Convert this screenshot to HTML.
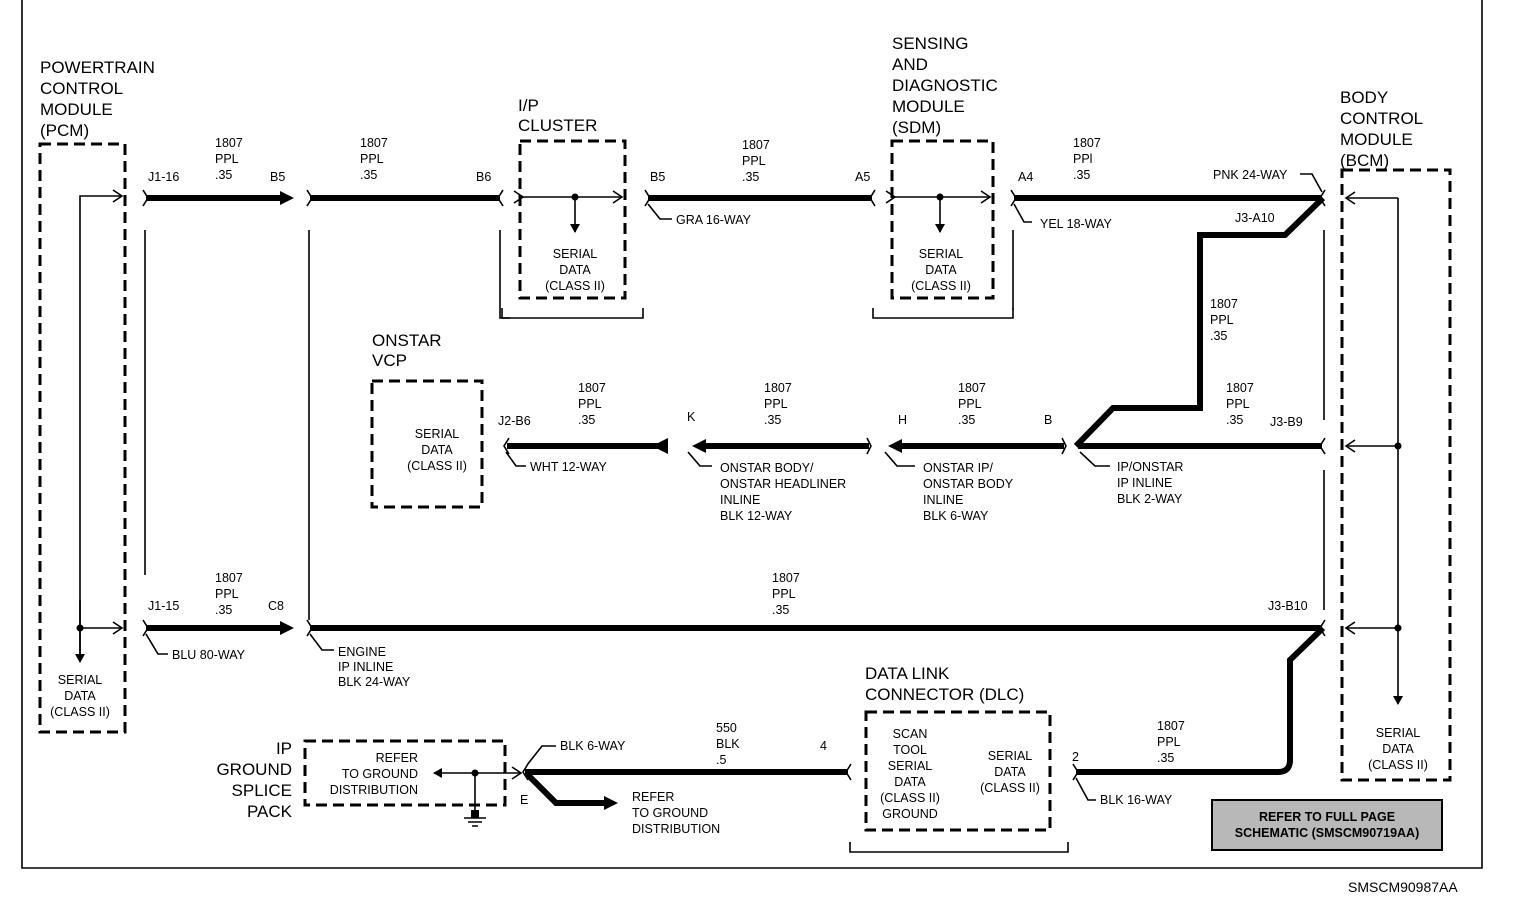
<!DOCTYPE html>
<html><head><meta charset="utf-8"><style>
html,body{margin:0;padding:0;background:#fff}
svg{display:block}
text{font-family:"Liberation Sans",Arial,sans-serif;fill:#000}
.t{font-size:17px}
.s{font-size:12.5px}
.w{stroke:#000;stroke-width:6;fill:none;stroke-linejoin:miter}
.n{stroke:#000;stroke-width:1.6;fill:none}
.d{stroke:#000;stroke-width:3;fill:none;stroke-dasharray:11,6}
</style></head><body>
<svg width="1520" height="914" viewBox="0 0 1520 914" xmlns="http://www.w3.org/2000/svg">
<defs>
<marker id="ah" markerWidth="10" markerHeight="10" refX="8" refY="5" orient="auto" markerUnits="userSpaceOnUse"><path d="M0,0 L9,5 L0,10 Z" fill="#000"/></marker>
<marker id="bh" markerWidth="16" markerHeight="16" refX="4" refY="8" orient="auto" markerUnits="userSpaceOnUse"><path d="M0,1 L14,8 L0,15 Z" fill="#000"/></marker>
<marker id="oa" markerWidth="12" markerHeight="14" refX="10" refY="7" orient="auto" markerUnits="userSpaceOnUse"><path d="M1,1 L10,7 L1,13" fill="none" stroke="#000" stroke-width="1.6"/></marker>
</defs>
<!-- frame -->
<path d="M22,0 V868 H1482 V0" class="n"/>

<!-- PCM -->
<text class="t" x="40" y="73">POWERTRAIN</text>
<text class="t" x="40" y="94">CONTROL</text>
<text class="t" x="40" y="115">MODULE</text>
<text class="t" x="40" y="136">(PCM)</text>
<rect x="40" y="144" width="85" height="588" class="d"/>
<path d="M80,660 V196 H122" class="n" marker-end="url(#oa)"/>
<path d="M80,600 V662" class="n" marker-end="url(#ah)"/>
<path d="M80,628 H122" class="n" marker-end="url(#oa)"/>
<circle cx="80" cy="628" r="3.5"/>
<g class="s" text-anchor="middle"><text x="80" y="684">SERIAL</text><text x="80" y="700">DATA</text><text x="80" y="716">(CLASS II)</text></g>

<!-- row 1 -->
<g class="s"><text x="148" y="181">J1-16</text><text x="215" y="147">1807</text><text x="215" y="163">PPL</text><text x="215" y="179">.35</text><text x="270" y="181">B5</text>
<text x="360" y="147">1807</text><text x="360" y="163">PPL</text><text x="360" y="179">.35</text><text x="476" y="181">B6</text></g>
<path d="M146,198 H284" class="w" marker-end="url(#bh)"/>
<path d="M143,190 L148,198 L143,206" class="n" stroke-width="3"/>
<path d="M310,198 H500" class="w"/>
<path d="M307,190 L312,198 L307,206 M503,190 L498,198 L503,206" class="n" stroke-width="3"/>
<path d="M145,230 V575 M309,230 V620 M500,230 V318 H510" class="n"/>

<text class="t" x="518" y="111">I/P</text><text class="t" x="518" y="131">CLUSTER</text>
<rect x="520" y="141" width="105" height="157" class="d"/>
<path d="M523,197 H622" class="n" marker-start="url(#oa)" marker-end="url(#oa)"/>
<path d="M575,197 V232" class="n" marker-end="url(#ah)"/><circle cx="575" cy="197" r="3.5"/>
<g class="s" text-anchor="middle"><text x="575" y="258">SERIAL</text><text x="575" y="274">DATA</text><text x="575" y="290">(CLASS II)</text></g>
<path d="M502,308 V318 H643 V308" class="n"/>

<g class="s"><text x="650" y="181">B5</text><text x="742" y="149">1807</text><text x="742" y="165">PPL</text><text x="742" y="181">.35</text><text x="855" y="181">A5</text>
<text x="676" y="224">GRA 16-WAY</text></g>
<path d="M648,198 H872" class="w"/>
<path d="M645,190 L650,198 L645,206 M875,190 L870,198 L875,206" class="n" stroke-width="3"/>
<path d="M648,204 L660,219 H672" class="n"/>

<text class="t" x="892" y="49">SENSING</text><text class="t" x="892" y="70">AND</text><text class="t" x="892" y="91">DIAGNOSTIC</text><text class="t" x="892" y="112">MODULE</text><text class="t" x="892" y="133">(SDM)</text>
<rect x="892" y="141" width="101" height="157" class="d"/>
<path d="M895,197 H990" class="n" marker-start="url(#oa)" marker-end="url(#oa)"/>
<path d="M940,197 V232" class="n" marker-end="url(#ah)"/><circle cx="940" cy="197" r="3.5"/>
<g class="s" text-anchor="middle"><text x="941" y="258">SERIAL</text><text x="941" y="274">DATA</text><text x="941" y="290">(CLASS II)</text></g>
<path d="M873,308 V318 H1013 V308" class="n"/>
<path d="M1013,230 V310" class="n"/>

<g class="s"><text x="1018" y="181">A4</text><text x="1073" y="147">1807</text><text x="1073" y="163">PPl</text><text x="1073" y="179">.35</text>
<text x="1040" y="228">YEL 18-WAY</text><text x="1213" y="179">PNK 24-WAY</text><text x="1235" y="222">J3-A10</text>
<text x="1210" y="308">1807</text><text x="1210" y="324">PPL</text><text x="1210" y="340">.35</text></g>
<path d="M1014,198 H1322" class="w"/>
<path d="M1011,190 L1016,198 L1011,206" class="n" stroke-width="3"/>
<path d="M1014,204 L1024,222 H1032 M1300,174 H1312 L1322,192" class="n"/>
<path d="M1323,198 L1285,235 H1200 V408 H1113 L1076,446" class="w"/>
<path d="M1325,190 L1320,198 L1325,206" class="n" stroke-width="3"/>
<path d="M1324,230 V420 M1324,470 V610" class="n"/>

<!-- ONSTAR -->
<text class="t" x="372" y="346">ONSTAR</text><text class="t" x="372" y="366">VCP</text>
<rect x="372" y="381" width="110" height="126" class="d"/>
<g class="s" text-anchor="middle"><text x="437" y="438">SERIAL</text><text x="437" y="454">DATA</text><text x="437" y="470">(CLASS II)</text></g>

<g class="s"><text x="498" y="425">J2-B6</text><text x="578" y="392">1807</text><text x="578" y="408">PPL</text><text x="578" y="424">.35</text>
<text x="687" y="421">K</text><text x="764" y="392">1807</text><text x="764" y="408">PPL</text><text x="764" y="424">.35</text>
<text x="898" y="424">H</text><text x="958" y="392">1807</text><text x="958" y="408">PPL</text><text x="958" y="424">.35</text><text x="1044" y="424">B</text>
<text x="1226" y="392">1807</text><text x="1226" y="408">PPL</text><text x="1226" y="424">.35</text><text x="1270" y="426">J3-B9</text>
<text x="530" y="471">WHT 12-WAY</text>
<text x="720" y="472">ONSTAR BODY/</text><text x="720" y="488">ONSTAR HEADLINER</text><text x="720" y="504">INLINE</text><text x="720" y="520">BLK 12-WAY</text>
<text x="923" y="472">ONSTAR IP/</text><text x="923" y="488">ONSTAR BODY</text><text x="923" y="504">INLINE</text><text x="923" y="520">BLK 6-WAY</text>
<text x="1117" y="471">IP/ONSTAR</text><text x="1117" y="487">IP INLINE</text><text x="1117" y="503">BLK 2-WAY</text></g>
<path d="M1078,446 H1322" class="w"/><path d="M1325,438 L1320,446 L1325,454" class="n" stroke-width="3"/>
<path d="M1064,446 H898" class="w" marker-end="url(#bh)"/><path d="M1062,438 L1066,446 L1062,454" class="n" stroke-width="3"/>
<path d="M869,446 H702" class="w" marker-end="url(#bh)"/><path d="M867,438 L871,446 L867,454" class="n" stroke-width="3"/>
<path d="M665,446 H507" class="w"/><path d="M652,446 L668,438 L668,454 Z" fill="#000"/>
<path d="M509,438 L504,446 L509,454" class="n" stroke-width="3"/>
<path d="M506,452 L516,466 H526 M688,452 L700,466 H712 M885,452 L897,466 H915 M1080,452 L1095,466 H1110" class="n"/>

<!-- BCM -->
<text class="t" x="1340" y="103">BODY</text><text class="t" x="1340" y="124">CONTROL</text><text class="t" x="1340" y="145">MODULE</text><text class="t" x="1340" y="166">(BCM)</text>
<rect x="1342" y="170" width="108" height="610" class="d"/>
<path d="M1398,198 H1346" class="n" marker-end="url(#oa)"/>
<path d="M1398,446 H1346" class="n" marker-end="url(#oa)"/>
<path d="M1398,628 H1346" class="n" marker-end="url(#oa)"/>
<path d="M1398,198 V704" class="n" marker-end="url(#ah)"/>
<circle cx="1398" cy="446" r="3.5"/><circle cx="1398" cy="628" r="3.5"/>
<g class="s" text-anchor="middle"><text x="1398" y="737">SERIAL</text><text x="1398" y="753">DATA</text><text x="1398" y="769">(CLASS II)</text></g>

<!-- row 3 -->
<g class="s"><text x="148" y="610">J1-15</text><text x="215" y="582">1807</text><text x="215" y="598">PPL</text><text x="215" y="614">.35</text><text x="268" y="610">C8</text>
<text x="172" y="659">BLU 80-WAY</text>
<text x="338" y="656">ENGINE</text><text x="338" y="671">IP INLINE</text><text x="338" y="686">BLK 24-WAY</text>
<text x="772" y="582">1807</text><text x="772" y="598">PPL</text><text x="772" y="614">.35</text><text x="1268" y="610">J3-B10</text></g>
<path d="M146,628 H284" class="w" marker-end="url(#bh)"/>
<path d="M143,620 L148,628 L143,636" class="n" stroke-width="3"/>
<path d="M310,628 H1322" class="w"/>
<path d="M307,620 L312,628 L307,636 M1325,620 L1320,628 L1325,636" class="n" stroke-width="3"/>
<path d="M146,634 L158,654 H168 M310,634 L322,650 H334" class="n"/>
<path d="M1323,628 L1290,660 V760 Q1290,772 1278,772 H1076" class="w"/>
<path d="M1073,764 L1078,772 L1073,780" class="n" stroke-width="3"/>

<!-- DLC -->
<text class="t" x="865" y="679">DATA LINK</text><text class="t" x="865" y="700">CONNECTOR (DLC)</text>
<rect x="866" y="712" width="184" height="118" class="d"/>
<g class="s" text-anchor="middle"><text x="910" y="738">SCAN</text><text x="910" y="754">TOOL</text><text x="910" y="770">SERIAL</text><text x="910" y="786">DATA</text><text x="910" y="802">(CLASS II)</text><text x="910" y="818">GROUND</text>
<text x="1010" y="760">SERIAL</text><text x="1010" y="776">DATA</text><text x="1010" y="792">(CLASS II)</text></g>
<path d="M850,842 V852 H1068 V842" class="n"/>
<g class="s"><text x="1072" y="761">2</text><text x="1157" y="730">1807</text><text x="1157" y="746">PPL</text><text x="1157" y="762">.35</text><text x="1100" y="804">BLK 16-WAY</text>
<text x="820" y="750">4</text><text x="716" y="732">550</text><text x="716" y="748">BLK</text><text x="716" y="764">.5</text>
<text x="560" y="750">BLK 6-WAY</text><text x="520" y="804">E</text>
<text x="632" y="801">REFER</text><text x="632" y="817">TO GROUND</text><text x="632" y="833">DISTRIBUTION</text></g>
<path d="M1076,778 L1088,800 H1096 M527,765 L542,746 H556" class="n"/>
<path d="M525,772 H848" class="w"/>
<path d="M528,764 L523,772 L528,780 M851,764 L846,772 L851,780" class="n" stroke-width="3"/>
<path d="M527,774 L556,803 H608" class="w" marker-end="url(#bh)"/>

<!-- IP ground -->
<g class="t" text-anchor="end"><text x="292" y="754">IP</text><text x="292" y="775">GROUND</text><text x="292" y="796">SPLICE</text><text x="292" y="817">PACK</text></g>
<rect x="305" y="741" width="200" height="64" class="d"/>
<g class="s" text-anchor="end"><text x="418" y="762">REFER</text><text x="418" y="778">TO GROUND</text><text x="418" y="794">DISTRIBUTION</text></g>
<path d="M475,773 H434" class="n" marker-end="url(#ah)"/>
<path d="M475,773 H521" class="n" marker-end="url(#oa)"/>
<circle cx="475" cy="773" r="3.5"/>
<path d="M475,773 V815" class="n"/>
<rect x="471" y="810" width="8" height="8" fill="#000"/>
<path d="M464,818 H486 M468,822 H482 M472,826 H478" class="n"/>

<!-- refer box -->
<rect x="1212" y="800" width="230" height="50" fill="#b8b8b8" stroke="#000" stroke-width="2"/>
<g class="s" text-anchor="middle" font-weight="bold"><text x="1327" y="821">REFER TO FULL PAGE</text><text x="1327" y="837">SCHEMATIC (SMSCM90719AA)</text></g>
<text x="1348" y="892" style="font-size:14px">SMSCM90987AA</text>
</svg>
</body></html>
